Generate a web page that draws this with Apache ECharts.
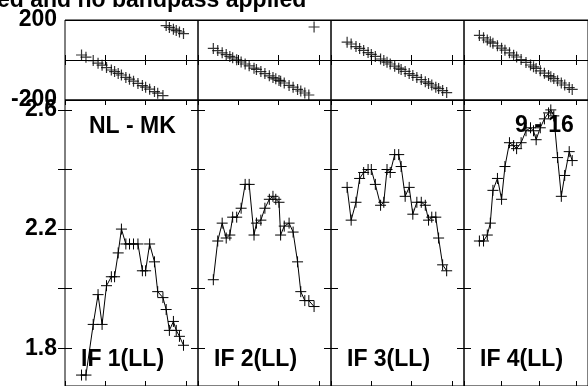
<!DOCTYPE html>
<html>
<head>
<meta charset="utf-8">
<script src="https://cdn.jsdelivr.net/npm/echarts@6/dist/echarts.min.js"></script>
<style>
  html, body { margin: 0; padding: 0; background: #fff; }
  #chart { width: 588px; height: 386px; }
</style>
</head>
<body>
<div id="chart"></div>
<script>
// time of each point, amplitude and phase, per IF panel
var t1 = [4.1, 5.2, 7.0, 8.2, 9.2, 10.3, 11.5, 12.3, 13.2, 14.0, 15.1, 16.0, 17.0, 18.1, 19.2, 20.0, 21.0, 22.2, 23.0, 24.3, 25.1, 25.9, 26.9, 27.6, 28.4, 29.4];
var amp1 = [1.71, 1.71, 1.88, 1.98, 1.88, 2.01, 2.04, 2.04, 2.12, 2.20, 2.15, 2.15, 2.15, 2.15, 2.06, 2.06, 2.15, 2.09, 1.99, 1.97, 1.93, 1.86, 1.89, 1.86, 1.84, 1.81];
var ph1 = [25, 14, -3, -16, -26, -38, -50, -58, -67, -75, -87, -96, -106, -117, -128, -136, -146, -158, -166, -178, 172, 163, 154, 147, 140, 132];

var t2 = [3.8, 4.9, 6.0, 7.0, 7.9, 8.6, 9.6, 10.7, 11.7, 12.7, 13.9, 14.5, 15.6, 16.6, 17.7, 18.6, 19.3, 20.1, 20.5, 21.4, 22.6, 23.6, 24.7, 25.5, 26.5, 27.5, 28.8];
var amp2 = [2.03, 2.16, 2.22, 2.17, 2.18, 2.24, 2.24, 2.27, 2.35, 2.35, 2.18, 2.22, 2.23, 2.27, 2.30, 2.31, 2.30, 2.29, 2.18, 2.21, 2.22, 2.19, 2.09, 1.99, 1.96, 1.96, 1.94];
var ph2 = [58, 47, 36, 27, 18, 11, 1, -10, -20, -29, -41, -47, -58, -68, -79, -88, -94, -102, -106, -115, -127, -136, -147, -155, -165, -175, 165];

var t3 = [4.0, 5.0, 6.2, 7.1, 8.1, 9.2, 10.0, 11.0, 12.3, 13.1, 13.9, 14.7, 15.8, 16.8, 17.4, 18.4, 19.4, 20.3, 21.3, 22.4, 23.4, 24.2, 25.0, 26.0, 26.7, 27.7, 28.7];
var amp3 = [2.34, 2.23, 2.29, 2.37, 2.39, 2.40, 2.40, 2.35, 2.28, 2.29, 2.40, 2.39, 2.45, 2.45, 2.41, 2.31, 2.34, 2.25, 2.29, 2.29, 2.28, 2.23, 2.24, 2.24, 2.17, 2.08, 2.06];
var ph3 = [89, 80, 67, 58, 48, 37, 28, 18, 5, -3, -11, -20, -31, -41, -47, -57, -68, -77, -87, -98, -109, -117, -125, -136, -143, -153, -163];

var t4 = [4.1, 5.2, 6.2, 7.0, 7.7, 8.9, 10.0, 10.9, 12.1, 13.2, 14.0, 15.2, 16.5, 17.7, 18.5, 19.2, 20.3, 21.4, 22.5, 23.1, 23.9, 24.9, 25.9, 26.8, 28.0, 28.8];
var amp4 = [2.16, 2.16, 2.18, 2.22, 2.33, 2.37, 2.30, 2.41, 2.49, 2.48, 2.47, 2.49, 2.53, 2.54, 2.53, 2.50, 2.54, 2.57, 2.59, 2.60, 2.58, 2.44, 2.31, 2.38, 2.46, 2.43];
var ph4 = [123, 111, 100, 91, 84, 71, 59, 49, 36, 24, 15, 2, -12, -25, -34, -42, -54, -66, -78, -84, -93, -104, -115, -125, -138, -147];

var panelNames = ['IF 1(LL)', 'IF 2(LL)', 'IF 3(LL)', 'IF 4(LL)'];
var ampTicks = [1.8, 2.0, 2.2, 2.4, 2.6];
var ampLabels = [1.8, 2.2, 2.6];

var times = [t1, t2, t3, t4];
var amps = [amp1, amp2, amp3, amp4];
var phases = [ph1, ph2, ph3, ph4];

var FONT = 'Liberation Sans, Arial, sans-serif';
var cross = 'path://M0,5L10,5M5,0L5,10';
var colLeft = [65, 198, 331, 464];
var colW = 133;

function pairs(x, y) {
  return x.map(function (v, i) { return [v, y[i]]; });
}

var grids = [], xAxes = [], yAxes = [], series = [];

for (var c = 0; c < 4; c++) {
  for (var r = 0; r < 2; r++) {
    var g = c * 2 + r;
    grids.push({
      left: colLeft[c], width: colW,
      top: r === 0 ? 20 : 100,
      height: r === 0 ? 80 : 288,
      show: true, borderColor: '#000', borderWidth: 1, backgroundColor: 'transparent'
    });
    ['bottom', 'top'].forEach(function (pos) {
      xAxes.push({
        gridIndex: g, type: 'value', position: pos, min: 0, max: 33, interval: 10,
        axisLine: { show: false },
        axisTick: { show: true, inside: true, length: 5, lineStyle: { color: '#000' } },
        axisLabel: { show: false },
        splitLine: { show: false }
      });
    });
    if (r === 0) {
      // phase, -200..200
      yAxes.push({
        gridIndex: g, type: 'value', position: 'left', min: -200, max: 200, interval: 200,
        axisLine: { show: false }, axisTick: { show: false },
        axisLabel: {
          show: c === 0, margin: 8, color: '#000', fontFamily: FONT, fontWeight: 'bold', fontSize: 23,
          formatter: function (v) { return v === 0 ? '' : String(v); }
        },
        splitLine: { show: true, lineStyle: { color: '#000', width: 1 } }
      });
      yAxes.push({
        gridIndex: g, type: 'value', position: 'right', min: -200, max: 200, interval: 200,
        axisLine: { show: false }, axisTick: { show: false }, axisLabel: { show: false }, splitLine: { show: false }
      });
      series.push({
        type: 'scatter', xAxisIndex: g * 2, yAxisIndex: g * 2,
        data: pairs(times[c], phases[c]),
        symbol: cross, symbolSize: 11,
        itemStyle: { color: 'transparent', borderColor: '#000', borderWidth: 1.2 },
        silent: true
      });
    } else {
      // amplitude, 1.8..2.6 shown; axis range matches 1 unit = 300px
      ['left', 'right'].forEach(function (pos) {
        yAxes.push({
          gridIndex: g, type: 'value', position: pos, min: 1.6733, max: 2.6333,
          axisLine: { show: false },
          axisTick: { show: true, inside: true, length: 7, customValues: ampTicks, lineStyle: { color: '#000' } },
          axisLabel: {
            show: c === 0 && pos === 'left', customValues: ampLabels, margin: 8,
            color: '#000', fontFamily: FONT, fontWeight: 'bold', fontSize: 23
          },
          splitLine: { show: false }
        });
      });
      series.push({
        type: 'line', xAxisIndex: g * 2, yAxisIndex: g * 2,
        data: pairs(times[c], amps[c]),
        symbol: cross, symbolSize: 11, showSymbol: true,
        lineStyle: { color: '#000', width: 1 },
        itemStyle: { color: 'transparent', borderColor: '#000', borderWidth: 1 },
        silent: true
      });
    }
  }
}

var labelStyle = { fill: '#000', font: 'bold 23px ' + FONT };
var graphics = [
  { type: 'text', left: -3, top: -11, style: { text: 'ed and no bandpass applied', fill: '#000', font: 'bold 23px ' + FONT } },
  { type: 'text', x: 89, y: 127, style: Object.assign({ text: 'NL - MK', verticalAlign: 'middle' }, labelStyle) },
  { type: 'text', x: 515, y: 126, style: Object.assign({ text: '9 - 16', verticalAlign: 'middle' }, labelStyle) }
];
panelNames.forEach(function (n, i) {
  graphics.push({ type: 'text', x: colLeft[i] + 16, y: 360, style: Object.assign({ text: n, verticalAlign: 'middle' }, labelStyle) });
});

var myChart = echarts.init(document.getElementById('chart'));
myChart.setOption({
  animation: false,
  grid: grids,
  xAxis: xAxes,
  yAxis: yAxes,
  series: series,
  graphic: graphics
});
</script>
</body>
</html>
